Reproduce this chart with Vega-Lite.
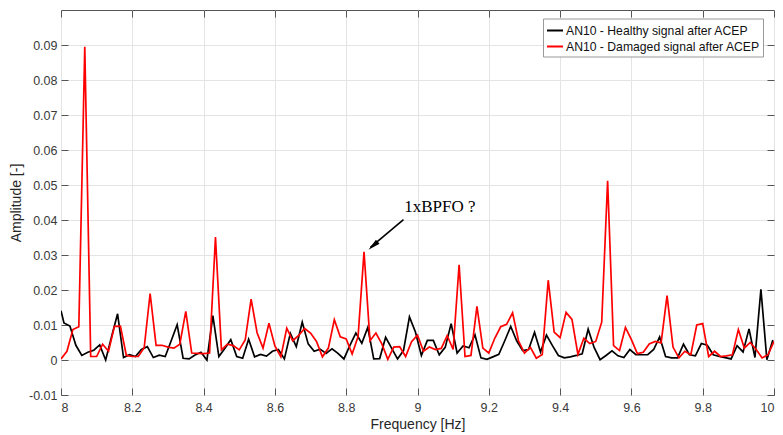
{
  "$schema": "https://vega.github.io/schema/vega-lite/v6.json",
  "width": 713,
  "height": 385,
  "autosize": {"type": "none"},
  "padding": {"left": 61, "top": 10, "right": 9, "bottom": 40},
  "background": "white",
  "config": {
    "view": {"stroke": "#555555", "strokeWidth": 1},
    "font": "Liberation Sans",
    "axis": {"labelFont": "Liberation Sans", "titleFont": "Liberation Sans", "labelColor": "#3a3a3a", "titleColor": "#262626", "labelFontSize": 12.5, "titleFontSize": 14, "titleFontWeight": "normal", "gridColor": "#e4e4e4", "gridWidth": 1, "domain": false, "tickColor": "#555555"}
  },
  "datasets": {
    "healthy": [
      {"f": 8.0, "a": 0.0141}, {"f": 8.0083, "a": 0.0106}, {"f": 8.025, "a": 0.0097}, {"f": 8.0417, "a": 0.0042}, {"f": 8.0584, "a": 0.0013},
      {"f": 8.0752, "a": 0.0022}, {"f": 8.0919, "a": 0.0028}, {"f": 8.1086, "a": 0.0043}, {"f": 8.1253, "a": 0.0}, {"f": 8.142, "a": 0.0067},
      {"f": 8.1587, "a": 0.0132}, {"f": 8.1754, "a": 0.0007}, {"f": 8.1921, "a": 0.0015}, {"f": 8.2088, "a": 0.001}, {"f": 8.2255, "a": 0.003},
      {"f": 8.2422, "a": 0.0038}, {"f": 8.259, "a": 0.0007}, {"f": 8.2757, "a": 0.0014}, {"f": 8.2924, "a": 0.001}, {"f": 8.3091, "a": 0.0055},
      {"f": 8.3258, "a": 0.0101}, {"f": 8.3425, "a": 0.0005}, {"f": 8.3592, "a": 0.0003}, {"f": 8.3759, "a": 0.0014}, {"f": 8.3926, "a": 0.0022},
      {"f": 8.4093, "a": 0.0}, {"f": 8.426, "a": 0.0127}, {"f": 8.4428, "a": 0.001}, {"f": 8.4595, "a": 0.0033}, {"f": 8.4762, "a": 0.0058},
      {"f": 8.4929, "a": 0.001}, {"f": 8.5096, "a": 0.0005}, {"f": 8.5263, "a": 0.0059}, {"f": 8.543, "a": 0.0009}, {"f": 8.5597, "a": 0.0016},
      {"f": 8.5764, "a": 0.0011}, {"f": 8.5931, "a": 0.0025}, {"f": 8.6098, "a": 0.003}, {"f": 8.6266, "a": 0.0003}, {"f": 8.6433, "a": 0.0076},
      {"f": 8.66, "a": 0.0038}, {"f": 8.6767, "a": 0.0108}, {"f": 8.6934, "a": 0.0046}, {"f": 8.7101, "a": 0.0025}, {"f": 8.7268, "a": 0.0031},
      {"f": 8.7435, "a": 0.0019}, {"f": 8.7602, "a": 0.0032}, {"f": 8.7769, "a": 0.0019}, {"f": 8.7936, "a": 0.0003}, {"f": 8.8104, "a": 0.0042},
      {"f": 8.8271, "a": 0.0077}, {"f": 8.8438, "a": 0.0048}, {"f": 8.8605, "a": 0.0093}, {"f": 8.8772, "a": 0.0003}, {"f": 8.8939, "a": 0.0004},
      {"f": 8.9106, "a": 0.0065}, {"f": 8.9273, "a": 0.0034}, {"f": 8.944, "a": 0.0003}, {"f": 8.9607, "a": 0.0027}, {"f": 8.9774, "a": 0.0123},
      {"f": 8.9942, "a": 0.008}, {"f": 9.0109, "a": 0.0013}, {"f": 9.0276, "a": 0.0056}, {"f": 9.0443, "a": 0.0056}, {"f": 9.061, "a": 0.0015},
      {"f": 9.0777, "a": 0.0036}, {"f": 9.0944, "a": 0.0104}, {"f": 9.1111, "a": 0.002}, {"f": 9.1278, "a": 0.004}, {"f": 9.1445, "a": 0.0035},
      {"f": 9.1612, "a": 0.0072}, {"f": 9.178, "a": 0.0006}, {"f": 9.1947, "a": 0.0002}, {"f": 9.2114, "a": 0.0009}, {"f": 9.2281, "a": 0.0016},
      {"f": 9.2448, "a": 0.0055}, {"f": 9.2615, "a": 0.0096}, {"f": 9.2782, "a": 0.0055}, {"f": 9.2949, "a": 0.0027}, {"f": 9.3116, "a": 0.003},
      {"f": 9.3283, "a": 0.0079}, {"f": 9.345, "a": 0.0023}, {"f": 9.3618, "a": 0.0071}, {"f": 9.3785, "a": 0.0041}, {"f": 9.3952, "a": 0.0013},
      {"f": 9.4119, "a": 0.0006}, {"f": 9.4286, "a": 0.0009}, {"f": 9.4453, "a": 0.0013}, {"f": 9.462, "a": 0.0018}, {"f": 9.4787, "a": 0.0088},
      {"f": 9.4954, "a": 0.0036}, {"f": 9.5121, "a": 0.0001}, {"f": 9.5288, "a": 0.0013}, {"f": 9.5456, "a": 0.0026}, {"f": 9.5623, "a": 0.0012},
      {"f": 9.579, "a": 0.0007}, {"f": 9.5957, "a": 0.003}, {"f": 9.6124, "a": 0.0015}, {"f": 9.6291, "a": 0.0015}, {"f": 9.6458, "a": 0.0015},
      {"f": 9.6625, "a": 0.003}, {"f": 9.6792, "a": 0.0066}, {"f": 9.6959, "a": 0.001}, {"f": 9.7126, "a": 0.0006}, {"f": 9.7294, "a": 0.0006},
      {"f": 9.7461, "a": 0.0045}, {"f": 9.7628, "a": 0.0015}, {"f": 9.7795, "a": 0.0012}, {"f": 9.7962, "a": 0.0047}, {"f": 9.8129, "a": 0.0042},
      {"f": 9.8296, "a": 0.0015}, {"f": 9.8463, "a": 0.001}, {"f": 9.863, "a": 0.0007}, {"f": 9.8797, "a": 0.0003}, {"f": 9.8964, "a": 0.0041},
      {"f": 9.9132, "a": 0.0023}, {"f": 9.9299, "a": 0.0089}, {"f": 9.9466, "a": 0.0007}, {"f": 9.9633, "a": 0.0202}, {"f": 9.98, "a": 0.0001},
      {"f": 9.9967, "a": 0.0057}
    ],
    "damaged": [
      {"f": 8.0, "a": 0.0003}, {"f": 8.0167, "a": 0.0025}, {"f": 8.0333, "a": 0.0087}, {"f": 8.05, "a": 0.0095}, {"f": 8.0667, "a": 0.0895},
      {"f": 8.0833, "a": 0.001}, {"f": 8.1, "a": 0.001}, {"f": 8.1167, "a": 0.0045}, {"f": 8.1333, "a": 0.0025}, {"f": 8.15, "a": 0.0096},
      {"f": 8.1667, "a": 0.0097}, {"f": 8.1833, "a": 0.0013}, {"f": 8.2, "a": 0.001}, {"f": 8.2167, "a": 0.001}, {"f": 8.2333, "a": 0.0035},
      {"f": 8.25, "a": 0.019}, {"f": 8.2667, "a": 0.0042}, {"f": 8.2833, "a": 0.0042}, {"f": 8.3, "a": 0.0037}, {"f": 8.3167, "a": 0.0034},
      {"f": 8.3333, "a": 0.0045}, {"f": 8.35, "a": 0.0139}, {"f": 8.3667, "a": 0.002}, {"f": 8.3833, "a": 0.0019}, {"f": 8.4, "a": 0.0018},
      {"f": 8.4167, "a": 0.002}, {"f": 8.4333, "a": 0.0351}, {"f": 8.45, "a": 0.0029}, {"f": 8.4667, "a": 0.0045}, {"f": 8.4833, "a": 0.0041},
      {"f": 8.5, "a": 0.0029}, {"f": 8.5167, "a": 0.0057}, {"f": 8.5333, "a": 0.0174}, {"f": 8.55, "a": 0.0078}, {"f": 8.5667, "a": 0.0034},
      {"f": 8.5833, "a": 0.0105}, {"f": 8.6, "a": 0.004}, {"f": 8.6167, "a": 0.0009}, {"f": 8.6333, "a": 0.0091}, {"f": 8.65, "a": 0.0055},
      {"f": 8.6667, "a": 0.007}, {"f": 8.6833, "a": 0.009}, {"f": 8.7, "a": 0.0077}, {"f": 8.7167, "a": 0.0053}, {"f": 8.7333, "a": 0.0009},
      {"f": 8.75, "a": 0.0034}, {"f": 8.7667, "a": 0.0115}, {"f": 8.7833, "a": 0.0066}, {"f": 8.8, "a": 0.006}, {"f": 8.8167, "a": 0.0017},
      {"f": 8.8333, "a": 0.0067}, {"f": 8.85, "a": 0.0309}, {"f": 8.8667, "a": 0.0055}, {"f": 8.8833, "a": 0.0077}, {"f": 8.9, "a": 0.0046},
      {"f": 8.9167, "a": 0.0002}, {"f": 8.9333, "a": 0.0037}, {"f": 8.95, "a": 0.0038}, {"f": 8.9667, "a": 0.001}, {"f": 8.9833, "a": 0.0052},
      {"f": 9.0, "a": 0.0071}, {"f": 9.0167, "a": 0.0025}, {"f": 9.0333, "a": 0.0037}, {"f": 9.05, "a": 0.003}, {"f": 9.0667, "a": 0.0033},
      {"f": 9.0833, "a": 0.007}, {"f": 9.1, "a": 0.003}, {"f": 9.1167, "a": 0.0272}, {"f": 9.1333, "a": 0.001}, {"f": 9.15, "a": 0.0013},
      {"f": 9.1667, "a": 0.0153}, {"f": 9.1833, "a": 0.0034}, {"f": 9.2, "a": 0.002}, {"f": 9.2167, "a": 0.0062}, {"f": 9.2333, "a": 0.0095},
      {"f": 9.25, "a": 0.0102}, {"f": 9.2667, "a": 0.0135}, {"f": 9.2833, "a": 0.0055}, {"f": 9.3, "a": 0.002}, {"f": 9.3167, "a": 0.0036},
      {"f": 9.3333, "a": 0.0005}, {"f": 9.35, "a": 0.0016}, {"f": 9.3667, "a": 0.0228}, {"f": 9.3833, "a": 0.008}, {"f": 9.4, "a": 0.0064},
      {"f": 9.4167, "a": 0.0136}, {"f": 9.4333, "a": 0.0116}, {"f": 9.45, "a": 0.0016}, {"f": 9.4667, "a": 0.0062}, {"f": 9.4833, "a": 0.0047},
      {"f": 9.5, "a": 0.0053}, {"f": 9.5167, "a": 0.0108}, {"f": 9.5333, "a": 0.0512}, {"f": 9.55, "a": 0.0041}, {"f": 9.5667, "a": 0.0027},
      {"f": 9.5833, "a": 0.0093}, {"f": 9.6, "a": 0.0058}, {"f": 9.6167, "a": 0.0018}, {"f": 9.6333, "a": 0.0022}, {"f": 9.65, "a": 0.0046},
      {"f": 9.6667, "a": 0.0053}, {"f": 9.6833, "a": 0.0049}, {"f": 9.7, "a": 0.0184}, {"f": 9.7167, "a": 0.0037}, {"f": 9.7333, "a": 0.0006},
      {"f": 9.75, "a": 0.0025}, {"f": 9.7667, "a": 0.0015}, {"f": 9.7833, "a": 0.01}, {"f": 9.8, "a": 0.0104}, {"f": 9.8167, "a": 0.001},
      {"f": 9.8333, "a": 0.0025}, {"f": 9.85, "a": 0.001}, {"f": 9.8667, "a": 0.0012}, {"f": 9.8833, "a": 0.0015}, {"f": 9.9, "a": 0.0087},
      {"f": 9.9167, "a": 0.0034}, {"f": 9.9333, "a": 0.005}, {"f": 9.95, "a": 0.003}, {"f": 9.9667, "a": 0.0006}, {"f": 9.9833, "a": 0.0015},
      {"f": 10.0, "a": 0.0053}
    ],
    "label": [{"f": 8.9626, "a": 0.0438, "t": "1xBPFO ?"}],
    "arrow": [{"f": 8.9607, "a": 0.0401}, {"f": 8.868, "a": 0.0322}],
    "head": [{"f": 8.8625, "a": 0.0315}]
  },
  "layer": [
    {
      "data": {"name": "healthy"},
      "mark": {"type": "line", "strokeWidth": 1.7, "clip": true},
      "encoding": {
        "x": {"field": "f", "type": "quantitative", "scale": {"domain": [8, 10], "nice": false, "zero": false},
          "axis": {"orient": "bottom", "values": [8, 8.2, 8.4, 8.6, 8.8, 9, 9.2, 9.4, 9.6, 9.8, 10], "labelExpr": "'' + datum.value", "grid": true, "ticks": true, "tickSize": -7, "labelPadding": 13, "title": "Frequency [Hz]", "titlePadding": 4}},
        "y": {"field": "a", "type": "quantitative", "scale": {"domain": [-0.01, 0.1], "nice": false, "zero": false},
          "axis": {"orient": "left", "values": [-0.01, 0, 0.01, 0.02, 0.03, 0.04, 0.05, 0.06, 0.07, 0.08, 0.09], "labelExpr": "'' + datum.value", "grid": true, "ticks": true, "tickSize": -7, "labelPadding": 11, "title": "Amplitude [-]", "titlePadding": 5}},
        "color": {"datum": "AN10 - Healthy signal after ACEP", "type": "nominal",
          "scale": {"domain": ["AN10 - Healthy signal after ACEP", "AN10 - Damaged signal after ACEP"], "range": ["#000000", "#ff0000"]},
          "legend": {"orient": "none", "legendX": 482, "legendY": 8.5, "title": null, "symbolType": "stroke", "symbolSize": 256, "symbolStrokeWidth": 2, "labelFont": "Liberation Sans", "labelFontSize": 12.2, "labelColor": "#111111", "labelLimit": 0, "fillColor": "white", "strokeColor": "#999999", "padding": 3, "rowPadding": 0, "labelOffset": 2}}
      }
    },
    {
      "data": {"name": "damaged"},
      "mark": {"type": "line", "strokeWidth": 1.7, "clip": true},
      "encoding": {
        "x": {"field": "f", "type": "quantitative", "axis": null},
        "y": {"field": "a", "type": "quantitative", "axis": null},
        "color": {"datum": "AN10 - Damaged signal after ACEP", "type": "nominal"}
      }
    },
    {
      "data": {"name": "arrow"},
      "mark": {"type": "line", "color": "black", "strokeWidth": 1.6},
      "encoding": {
        "x": {"field": "f", "type": "quantitative", "axis": null},
        "y": {"field": "a", "type": "quantitative", "axis": null}
      }
    },
    {
      "data": {"name": "head"},
      "mark": {"type": "point", "shape": "M0,0L-0.45,2L0.45,2Z", "filled": true, "color": "black", "opacity": 1, "size": 150, "angle": 229},
      "encoding": {
        "x": {"field": "f", "type": "quantitative", "axis": null},
        "y": {"field": "a", "type": "quantitative", "axis": null}
      }
    },
    {
      "data": {"name": "label"},
      "mark": {"type": "text", "font": "Liberation Serif", "fontSize": 17, "align": "left", "baseline": "middle", "color": "black"},
      "encoding": {
        "x": {"field": "f", "type": "quantitative", "axis": null},
        "y": {"field": "a", "type": "quantitative", "axis": null},
        "text": {"field": "t"}
      }
    },
    {
      "data": {"name": "head"},
      "mark": {"type": "point", "opacity": 0},
      "encoding": {
        "x": {"field": "f", "type": "quantitative", "axis": {"orient": "top", "values": [8, 8.2, 8.4, 8.6, 8.8, 9, 9.2, 9.4, 9.6, 9.8, 10], "labels": false, "grid": false, "ticks": true, "tickSize": -7, "title": null}},
        "y": {"field": "a", "type": "quantitative", "axis": {"orient": "right", "values": [-0.01, 0, 0.01, 0.02, 0.03, 0.04, 0.05, 0.06, 0.07, 0.08, 0.09], "labels": false, "grid": false, "ticks": true, "tickSize": -7, "title": null}}
      }
    }
  ],
  "resolve": {"axis": {"x": "independent", "y": "independent"}}
}
